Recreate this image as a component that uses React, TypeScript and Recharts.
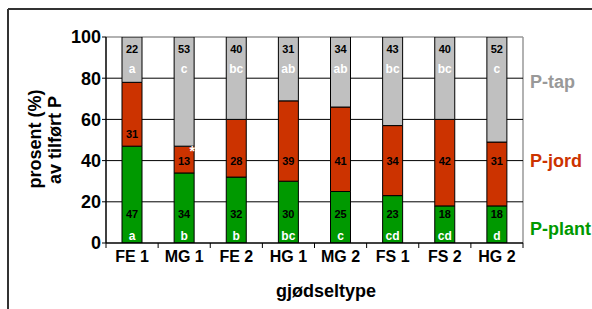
import { Bar, BarChart, CartesianGrid, LabelList, XAxis, YAxis } from 'recharts';

const categories = ['FE 1', 'MG 1', 'FE 2', 'HG 1', 'MG 2', 'FS 1', 'FS 2', 'HG 2'];
const plantValues = [47, 34, 32, 30, 25, 23, 18, 18];
const jordValues = [31, 13, 28, 39, 41, 34, 42, 31];
const tapValues = [22, 53, 40, 31, 34, 43, 40, 52];
const plantLetters = ['a', 'b', 'b', 'bc', 'c', 'cd', 'cd', 'd'];
const tapLetters = ['a', 'c', 'bc', 'ab', 'ab', 'bc', 'bc', 'c'];
const jordMarks = ['', '*', '', '', '', '', '', ''];
const yTicks = [0, 20, 40, 60, 80, 100];

const W = 592;
const H = 309;
const TOP = 37;
const BOTTOM = 243;
const LEFT = 106;
const RIGHT = 523;
const FONT = '"Liberation Sans", Arial, sans-serif';

const GREEN = '#009900';
const RED = '#CC3300';
const GRAY = '#C0C0C0';

const data = categories.map((name, i) => ({
  name,
  plant: plantValues[i],
  jord: jordValues[i],
  tap: tapValues[i],
}));

const numStyle = { fontFamily: FONT, fontSize: 11, fontWeight: 700, fill: '#000' };
const letterStyle = { fontFamily: FONT, fontSize: 12, fontWeight: 700, fill: '#fff' };

function PlantLabel(props: any) {
  const { x, y, width, height, index, value } = props;
  const cx = x + width / 2;
  const bottom = y + height;
  return (
    <g>
      <text x={cx} y={bottom - 29} textAnchor="middle" dominantBaseline="central" style={numStyle}>
        {value}
      </text>
      <text x={cx} y={bottom - 7} textAnchor="middle" dominantBaseline="central" style={letterStyle}>
        {plantLetters[index]}
      </text>
    </g>
  );
}

function JordLabel(props: any) {
  const { x, y, width, height, index, value } = props;
  const cx = x + width / 2;
  const level40 = BOTTOM - 0.4 * (BOTTOM - TOP);
  const ly = Math.min(Math.max(level40, y + 12), y + height - 12);
  return (
    <g>
      <text x={cx} y={ly} textAnchor="middle" dominantBaseline="central" style={numStyle}>
        {value}
      </text>
      {jordMarks[index] ? (
        <text
          x={x + width - 2}
          y={y + 5}
          textAnchor="middle"
          dominantBaseline="central"
          style={{ fontFamily: FONT, fontSize: 14, fontWeight: 700, fill: '#fff' }}
        >
          {jordMarks[index]}
        </text>
      ) : null}
    </g>
  );
}

function TapLabel(props: any) {
  const { x, width, index, value } = props;
  const cx = x + width / 2;
  return (
    <g>
      <text x={cx} y={TOP + 12} textAnchor="middle" dominantBaseline="central" style={numStyle}>
        {value}
      </text>
      <text x={cx} y={TOP + 32} textAnchor="middle" dominantBaseline="central" style={letterStyle}>
        {tapLetters[index]}
      </text>
    </g>
  );
}

function CategoryTick(props: any) {
  const { x, payload, index } = props;
  const band = (RIGHT - LEFT) / categories.length;
  const left = x - band / 2;
  return (
    <g>
      <line x1={left} x2={left} y1={BOTTOM} y2={BOTTOM + 5} stroke="#000" />
      {index === categories.length - 1 ? (
        <line x1={left + band} x2={left + band} y1={BOTTOM} y2={BOTTOM + 5} stroke="#000" />
      ) : null}
      <text
        x={x}
        y={BOTTOM + 13}
        textAnchor="middle"
        dominantBaseline="central"
        style={{ fontFamily: FONT, fontSize: 16, fontWeight: 700, fill: '#000' }}
      >
        {payload.value}
      </text>
    </g>
  );
}

const titleStyle = { fontFamily: FONT, fontSize: 18, fontWeight: 700 };

export default function App() {
  return (
    <div style={{ position: 'absolute', left: 0, top: 0, width: W, height: H, background: '#fff', fontFamily: FONT }}>
      <svg width={W} height={H} style={{ position: 'absolute', left: 0, top: 0 }}>
        <line x1={8} x2={W} y1={9} y2={9} stroke="#333" strokeWidth={2} />
        <line x1={8} x2={8} y1={9} y2={H} stroke="#333" strokeWidth={2} />
        <line x1={LEFT} x2={RIGHT} y1={TOP} y2={TOP} stroke="#999" strokeWidth={1.5} />
        <line x1={RIGHT} x2={RIGHT} y1={TOP} y2={BOTTOM} stroke="#999" strokeWidth={1.5} />
        <text
          transform="translate(35 139) rotate(-90)"
          textAnchor="middle"
          dominantBaseline="central"
          style={{ ...titleStyle, fill: '#000' }}
        >
          prosent (%)
        </text>
        <text
          transform="translate(55 140) rotate(-90)"
          textAnchor="middle"
          dominantBaseline="central"
          style={{ ...titleStyle, fill: '#000' }}
        >
          av tilført P
        </text>
        <text x={326} y={291} textAnchor="middle" dominantBaseline="central" style={{ ...titleStyle, fill: '#000' }}>
          gjødseltype
        </text>
        <text x={530} y={82} dominantBaseline="central" style={{ ...titleStyle, fill: '#999999' }}>
          P-tap
        </text>
        <text x={530} y={161} dominantBaseline="central" style={{ ...titleStyle, fill: RED }}>
          P-jord
        </text>
        <text x={530} y={229} dominantBaseline="central" style={{ ...titleStyle, fill: GREEN }}>
          P-plant
        </text>
      </svg>
      <div style={{ position: 'absolute', left: 0, top: 0 }}>
        <BarChart
          width={W}
          height={H}
          data={data}
          margin={{ top: TOP, right: W - RIGHT, left: 0, bottom: 0 }}
          barSize={20}
        >
          <CartesianGrid horizontalValues={[20, 40, 60, 80]} vertical={false} stroke="#000" strokeWidth={1} />
          <XAxis
            dataKey="name"
            height={H - BOTTOM}
            axisLine={{ stroke: '#000', strokeWidth: 1.5 }}
            tickLine={false}
            tickSize={0}
            tickMargin={0}
            interval={0}
            tick={<CategoryTick />}
          />
          <YAxis
            width={LEFT}
            domain={[0, 100]}
            ticks={yTicks}
            allowDataOverflow
            axisLine={{ stroke: '#000', strokeWidth: 1.5 }}
            tickLine={{ stroke: '#000' }}
            tickSize={4}
            tickMargin={1}
            tick={{ fill: '#000', fontSize: 18, fontWeight: 700, fontFamily: FONT }}
          />
          <Bar dataKey="plant" stackId="p" fill={GREEN} stroke="#000" strokeWidth={1} isAnimationActive={false}>
            <LabelList dataKey="plant" content={<PlantLabel />} />
          </Bar>
          <Bar dataKey="jord" stackId="p" fill={RED} stroke="#000" strokeWidth={1} isAnimationActive={false}>
            <LabelList dataKey="jord" content={<JordLabel />} />
          </Bar>
          <Bar dataKey="tap" stackId="p" fill={GRAY} stroke="#000" strokeWidth={1} isAnimationActive={false}>
            <LabelList dataKey="tap" content={<TapLabel />} />
          </Bar>
        </BarChart>
      </div>
    </div>
  );
}
